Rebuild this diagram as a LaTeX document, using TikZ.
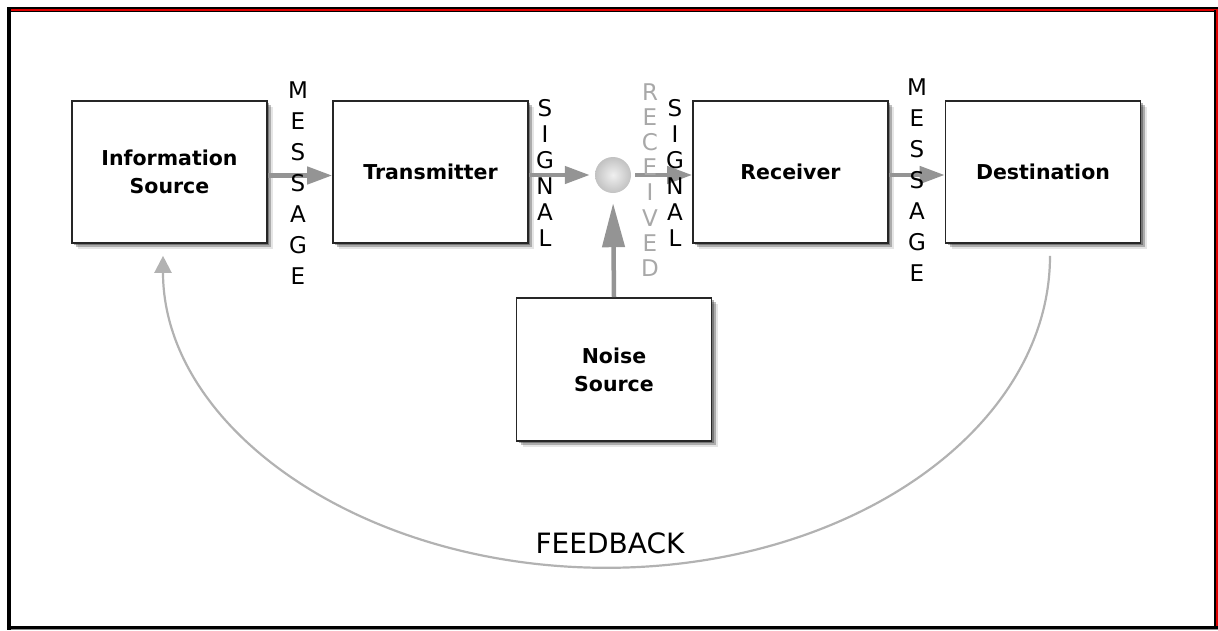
\documentclass[tikz,border=0pt]{standalone}
\usepackage{fontspec}
\setmainfont{DejaVu Sans}
\usetikzlibrary{arrows.meta,shadows,calc}

\definecolor{arrowgray}{HTML}{949494}
\definecolor{fbgray}{HTML}{B2B2B2}
\definecolor{recgray}{HTML}{A8A8A8}
\definecolor{framered}{HTML}{E00000}

\begin{document}
\begin{tikzpicture}[x=1pt,y=-1pt,
  block/.style={draw=black!85, line width=1.6pt, fill=white,
    minimum width=195pt, minimum height=142pt, inner sep=0pt, align=center,
    font=\fontsize{20.5}{28}\selectfont\bfseries,
    drop shadow={shadow xshift=2pt, shadow yshift=-2pt, fill=black, opacity=0.30},
    drop shadow={shadow xshift=4pt, shadow yshift=-4pt, fill=black, opacity=0.25},
    drop shadow={shadow xshift=6pt, shadow yshift=-6pt, fill=black, opacity=0.10}},
  flow/.style={draw=arrowgray, line width=4.5pt,
    -{Triangle[length=25pt,width=17pt]}, color=arrowgray},
  fback/.style={draw=fbgray, line width=2.2pt,
    -{Triangle[length=17pt,width=17pt]}, color=fbgray},
  stack/.style={align=center, inner sep=0pt},
]
\useasboundingbox (0,0) rectangle (1218,630);

% window frame
\fill[black] (7,7) rectangle (1218,12);
\draw[framered, line width=2pt] (9,10) -- (1216.5,10) -- (1216.5,630);
\fill[black] (7,7) rectangle (11,630);
\fill[black] (1214,10) rectangle (1215.8,630);
\fill[black] (7,626) rectangle (1218,628.5);
\fill[black!45] (11,628.5) rectangle (1218,630);

% blocks
\node[block] (src)   at (169.5,172) {Information\\Source};
\node[block] (tx)    at (430.5,172) {Transmitter};
\node[block] (rx)    at (790.5,172) {Receiver};
\node[block] (dst)   at (1043,172)  {Destination};
\node[block, minimum height=143pt] (noise) at (614,369.5) {Noise\\Source};

% channel point where noise enters
\node[circle, minimum size=36pt, inner sep=0pt, shading=radial,
  inner color=black!6, outer color=black!24] (mix) at (613,175) {};

% forward path
\draw[flow] ([yshift=-3.5pt]src.east) -- ([yshift=-3.5pt]tx.west);
\draw[flow, shorten >=5pt] ([yshift=-3pt]tx.east) -- (mix.west);
\draw[flow, shorten <=4pt] (mix.east) -- ([yshift=-3pt]rx.west);
\draw[flow] ([yshift=-3pt]rx.east) -- ([yshift=-3pt]dst.west);
\draw[flow, -{Triangle[length=44pt,width=22pt]}, shorten >=10pt] (noise.north) -- (mix.south);

% feedback loop
\draw[fback] ([xshift=7pt,yshift=-12pt]dst.south)
  arc[start angle=0, end angle=180, x radius=443.5, y radius=312];
\node (fbl) at (610,543) {\fontsize{28}{30}\selectfont FEEDBACK};

% vertical labels
\node[stack, font=\fontsize{23}{31}\selectfont] (msg1) at (298,183) {M\\E\\S\\S\\A\\G\\E};
\node[stack, font=\fontsize{23}{31}\selectfont] (msg2) at (917,180) {M\\E\\S\\S\\A\\G\\E};
\node[stack, font=\fontsize{23}{26}\selectfont] (sig1) at (545,173) {S\\I\\G\\N\\A\\L};
\node[stack, font=\fontsize{23}{26}\selectfont] (sig2) at (675,173) {S\\I\\G\\N\\A\\L};
\node[stack, font=\fontsize{23}{25.2}\selectfont, text=recgray] (recd) at (650,180) {R\\E\\C\\E\\I\\V\\E\\D};
\end{tikzpicture}
\end{document}
